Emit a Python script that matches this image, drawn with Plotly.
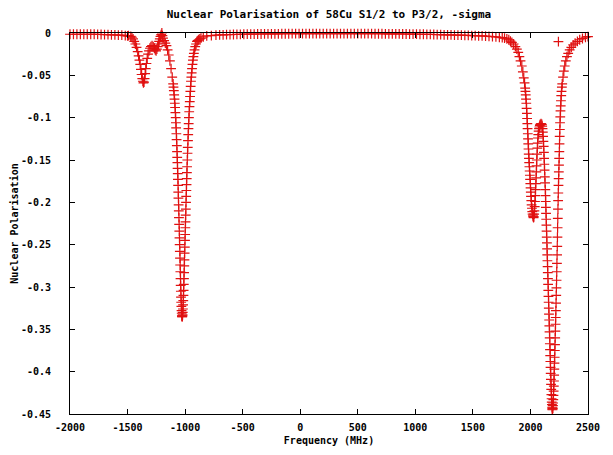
import plotly.graph_objects as go

# ---- data (frequency in MHz, nuclear polarisation) ----
freq_left = [-2000, -1970, -1940, -1910, -1880, -1850, -1820, -1790, -1760, -1730,
             -1700, -1670, -1640, -1610, -1580, -1550, -1520, -1500]
pol_left = [-0.0015, -0.0015, -0.0015, -0.0015, -0.0015, -0.0015, -0.0015, -0.0015, -0.0017, -0.0018,
            -0.0019, -0.002, -0.0021, -0.0022, -0.0024, -0.0026, -0.003, -0.0033]

freq_dip1 = [-1492, -1472, -1462, -1452, -1442, -1432, -1422, -1412, -1404, -1397,
             -1390, -1384, -1378, -1372, -1367, -1362, -1357, -1352, -1347, -1342,
             -1336, -1329, -1322, -1314, -1306, -1297, -1287, -1277, -1267, -1259,
             -1252, -1245, -1238, -1232, -1226, -1220, -1214, -1208, -1202]
pol_dip1 = [-0.003, -0.004, -0.005, -0.007, -0.010, -0.013, -0.017, -0.022, -0.027, -0.032,
            -0.037, -0.043, -0.049, -0.054, -0.057, -0.059, -0.058, -0.054, -0.048, -0.042,
            -0.036, -0.030, -0.025, -0.021, -0.018, -0.016, -0.015, -0.016, -0.018, -0.020,
            -0.021, -0.019, -0.016, -0.013, -0.010, -0.007, -0.004, -0.002, 0.000]

freq_dip2 = [-1197, -1192, -1182, -1172, -1162, -1152, -1142, -1132, -1122, -1112,
             -1104, -1101, -1098, -1095, -1092, -1089.5, -1087, -1084.5, -1082, -1080,
             -1078, -1076, -1074, -1072, -1070, -1068.5, -1067, -1065.5, -1064, -1062.5,
             -1061, -1059.5, -1058, -1056.5, -1055, -1053.5, -1052, -1050.5, -1049, -1047.5,
             -1046, -1044.5, -1043, -1041.5, -1040, -1038.5, -1037, -1035.5, -1034, -1032.5,
             -1031, -1029.5, -1028, -1026.5, -1025, -1023.5, -1022, -1020.5, -1019, -1017.5,
             -1016, -1014.5, -1013, -1011.5, -1010, -1008.5, -1007, -1005.5, -1004, -1002.5,
             -1001, -999.5, -998, -996.5, -995, -993.5, -992, -990.5, -989, -987.5,
             -986, -984.5, -983, -981, -979, -977, -975, -973, -971, -969,
             -967, -964.5, -962, -959.5, -957, -954.5, -952, -949, -946, -943,
             -940, -936, -932, -928, -924, -918, -912, -905, -897, -890,
             -882, -872, -862, -842, -812, -772, -732]
pol_dip2 = [-0.003, -0.006, -0.009, -0.012, -0.015, -0.020, -0.026, -0.033, -0.042, -0.052,
            -0.060, -0.064, -0.068, -0.073, -0.078, -0.083, -0.088, -0.094, -0.100, -0.106,
            -0.112, -0.119, -0.126, -0.133, -0.140, -0.147, -0.153, -0.160, -0.166, -0.173,
            -0.180, -0.188, -0.195, -0.203, -0.210, -0.218, -0.226, -0.234, -0.242, -0.250,
            -0.258, -0.266, -0.274, -0.282, -0.290, -0.298, -0.305, -0.312, -0.318, -0.323,
            -0.328, -0.331, -0.334, -0.335, -0.335, -0.334, -0.333, -0.330, -0.326, -0.321,
            -0.316, -0.310, -0.304, -0.297, -0.290, -0.283, -0.275, -0.268, -0.260, -0.253,
            -0.245, -0.238, -0.230, -0.223, -0.215, -0.208, -0.200, -0.193, -0.186, -0.179,
            -0.172, -0.165, -0.158, -0.150, -0.142, -0.135, -0.127, -0.120, -0.113, -0.107,
            -0.100, -0.093, -0.087, -0.081, -0.075, -0.069, -0.063, -0.057, -0.052, -0.047,
            -0.042, -0.037, -0.032, -0.028, -0.024, -0.020, -0.016, -0.013, -0.010, -0.009,
            -0.008, -0.007, -0.006, -0.0045, -0.0035, -0.003, -0.0025]

freq_mid = [-700, -670, -640, -610, -580, -550, -520, -490, -460, -430,
            -400, -370, -340, -310, -280, -250, -220, -190, -160, -130,
            -100, -70, -40, -10, 20, 50, 80, 110, 140, 170,
            200, 230, 260, 290, 320, 350, 380, 410, 440, 470,
            500, 530, 560, 590, 620, 650, 680, 710, 740, 770,
            800, 830, 860, 890, 920, 950, 980, 1010, 1040, 1070,
            1100, 1130, 1160, 1190, 1220, 1250, 1280, 1310, 1340, 1370,
            1400, 1430, 1460, 1490, 1520, 1550, 1580, 1610, 1640]
pol_mid = [-0.0023, -0.0021, -0.002, -0.0019, -0.0018, -0.0017, -0.0016, -0.0015, -0.0014, -0.0013,
           -0.0013, -0.0012, -0.0012, -0.0011, -0.0011, -0.001, -0.001, -0.001, -0.0009, -0.0009,
           -0.0009, -0.0008, -0.0008, -0.0008, -0.0008, -0.0007, -0.0007, -0.0007, -0.0007, -0.0007,
           -0.0007, -0.0007, -0.0007, -0.0007, -0.0007, -0.0007, -0.0007, -0.0007, -0.0007, -0.0007,
           -0.0008, -0.0008, -0.0008, -0.0008, -0.0008, -0.0009, -0.0009, -0.0009, -0.001, -0.001,
           -0.001, -0.0011, -0.0011, -0.0012, -0.0012, -0.0013, -0.0013, -0.0014, -0.0015, -0.0015,
           -0.0016, -0.0017, -0.0018, -0.0019, -0.002, -0.0021, -0.0022, -0.0023, -0.0024, -0.0025,
           -0.0026, -0.0027, -0.0028, -0.003, -0.0031, -0.0033, -0.0035, -0.0037, -0.004]

freq_dipA = [1670, 1700, 1730, 1755, 1775, 1795, 1812, 1826, 1839, 1854,
             1869, 1882, 1894, 1904, 1914, 1925, 1934, 1942, 1949, 1954,
             1956.5, 1959, 1961.5, 1964, 1966.5, 1969, 1971, 1973, 1975, 1977,
             1979, 1981, 1983, 1985, 1987, 1989, 1991, 1993, 1995, 1997,
             1999, 2001, 2003, 2005, 2007.5, 2010, 2013, 2016, 2019, 2022,
             2024.5, 2027, 2029.5, 2032, 2034.5, 2037, 2039.5, 2042, 2044.5, 2047,
             2049, 2051, 2053, 2055, 2057.5, 2060, 2062.5, 2065, 2068, 2071,
             2074.5, 2078, 2081.5, 2085, 2092]
pol_dipA = [-0.0042, -0.0045, -0.005, -0.0055, -0.006, -0.007, -0.008, -0.0095, -0.011, -0.013,
            -0.016, -0.019, -0.023, -0.028, -0.033, -0.039, -0.046, -0.053, -0.059, -0.065,
            -0.069, -0.073, -0.078, -0.083, -0.089, -0.095, -0.101, -0.107, -0.113, -0.119,
            -0.125, -0.131, -0.137, -0.143, -0.148, -0.153, -0.158, -0.163, -0.168, -0.173,
            -0.178, -0.183, -0.188, -0.193, -0.198, -0.203, -0.207, -0.211, -0.214, -0.216,
            -0.217, -0.218, -0.217, -0.214, -0.210, -0.205, -0.199, -0.192, -0.185, -0.178,
            -0.171, -0.164, -0.157, -0.150, -0.143, -0.136, -0.130, -0.124, -0.120, -0.116,
            -0.113, -0.111, -0.109, -0.108, -0.107]

freq_dipB = [2099, 2102, 2105, 2107.5, 2110, 2112.5, 2115, 2117, 2119, 2121,
             2123, 2125, 2127, 2129, 2131, 2132.5, 2134, 2135.5, 2137, 2138.5,
             2140, 2141.5, 2143, 2144.5, 2146, 2147.5, 2149, 2150.5, 2152, 2153.5,
             2155, 2156.5, 2158, 2159.5, 2161, 2162.5, 2164, 2165.5, 2167, 2168.5,
             2170, 2171.5, 2173, 2174.5, 2176, 2177.5, 2179, 2180.5, 2182, 2183.5,
             2185, 2186.5, 2188, 2189.5, 2191, 2192.5, 2194, 2195.5, 2197, 2198.5,
             2200, 2201.5, 2203, 2204.5, 2206, 2207.5, 2209, 2210.5, 2212, 2213.5,
             2215, 2216.5, 2218, 2219.5, 2221, 2222.5, 2224, 2225.5, 2227, 2228.5,
             2230, 2231.5, 2233, 2234.5, 2236, 2237.5, 2239, 2240.5, 2242, 2243.5,
             2245, 2246.5, 2248, 2249.5, 2251, 2252.5, 2254, 2255.5, 2257, 2259,
             2261, 2263, 2265, 2267.5, 2270, 2273, 2276, 2283, 2290, 2298,
             2307, 2317, 2328, 2341, 2355, 2371, 2388, 2408, 2428, 2452,
             2478, 2500]
pol_dipB = [-0.108, -0.110, -0.113, -0.117, -0.122, -0.128, -0.134, -0.141, -0.148, -0.155,
            -0.162, -0.170, -0.177, -0.185, -0.192, -0.199, -0.206, -0.213, -0.220, -0.227,
            -0.234, -0.241, -0.248, -0.255, -0.262, -0.269, -0.276, -0.283, -0.290, -0.297,
            -0.304, -0.311, -0.318, -0.325, -0.332, -0.339, -0.346, -0.353, -0.360, -0.367,
            -0.374, -0.381, -0.388, -0.395, -0.402, -0.409, -0.415, -0.421, -0.427, -0.432,
            -0.436, -0.439, -0.442, -0.444, -0.445, -0.444, -0.443, -0.440, -0.437, -0.433,
            -0.428, -0.423, -0.417, -0.411, -0.404, -0.397, -0.390, -0.383, -0.375, -0.368,
            -0.360, -0.352, -0.344, -0.336, -0.328, -0.319, -0.310, -0.301, -0.292, -0.282,
            -0.272, -0.262, -0.252, -0.241, -0.230, -0.219, -0.208, -0.198, -0.189, -0.180,
            -0.172, -0.164, -0.156, -0.148, -0.140, -0.131, -0.122, -0.114, -0.106, -0.099,
            -0.092, -0.086, -0.080, -0.074, -0.069, -0.064, -0.060, -0.052, -0.045, -0.039,
            -0.033, -0.028, -0.024, -0.020, -0.017, -0.014, -0.012, -0.010, -0.008, -0.0065,
            -0.005, -0.0042]

key_freq = [2243]
key_pol = [-0.0103]

x_tickvals = [-2000, -1500, -1000, -500, 0, 500, 1000, 1500, 2000, 2500]
x_ticktext = ["-2000", "-1500", "-1000", "-500", "0", "500", "1000", "1500", "2000", "2500"]
y_tickvals = [0, -0.05, -0.1, -0.15, -0.2, -0.25, -0.3, -0.35, -0.4, -0.45]
y_ticktext = ["0", "-0.05", "-0.1", "-0.15", "-0.2", "-0.25", "-0.3", "-0.35", "-0.4", "-0.45"]

freq = freq_left + freq_dip1 + freq_dip2 + freq_mid + freq_dipA + freq_dipB
pol = pol_left + pol_dip1 + pol_dip2 + pol_mid + pol_dipA + pol_dipB

RED = "#e01010"
TITLE_FONT = dict(family="DejaVu Sans Mono", size=11, color="black", weight="bold")
TICK_FONT = dict(family="DejaVu Sans Mono", size=10, color="black", weight="bold")

marker = dict(symbol="cross-thin", size=7, color=RED, line=dict(color=RED, width=1.2))

fig = go.Figure()
fig.add_trace(go.Scatter(x=freq, y=pol, mode="markers", marker=marker,
                         cliponaxis=False, showlegend=False))
fig.add_trace(go.Scatter(x=key_freq, y=key_pol, mode="markers", marker=marker,
                         cliponaxis=False, showlegend=False))

axis_common = dict(showline=True, linecolor="black", linewidth=1, mirror="ticks",
                   ticks="inside", ticklen=5, tickcolor="black", tickwidth=1,
                   showgrid=False, zeroline=False, tickfont=TICK_FONT)

fig.update_layout(
    width=613, height=455,
    margin=dict(l=70, r=25, t=33, b=41, autoexpand=False),
    paper_bgcolor="white", plot_bgcolor="white",
    title=dict(text="Nuclear Polarisation of 58Cu S1/2 to P3/2, -sigma", font=TITLE_FONT,
               x=0.5, xref="paper", y=1 - 14 / 455, yref="container",
               xanchor="center", yanchor="middle"),
    xaxis=dict(range=[-2000, 2500], tickvals=x_tickvals, ticktext=x_ticktext,
               title=dict(text="Frequency (MHz)", font=TICK_FONT, standoff=4),
               ticklabelstandoff=4, automargin=False, **axis_common),
    yaxis=dict(range=[-0.45, 0], tickvals=y_tickvals, ticktext=y_ticktext,
               title=dict(text="Nuclear Polarisation", font=TICK_FONT, standoff=0),
               ticklabelstandoff=16, automargin=False, **axis_common),
)

fig.write_html("out.html", config={"displayModeBar": False},
               post_script="document.body.style.margin='0px';document.body.style.overflow='hidden';")
